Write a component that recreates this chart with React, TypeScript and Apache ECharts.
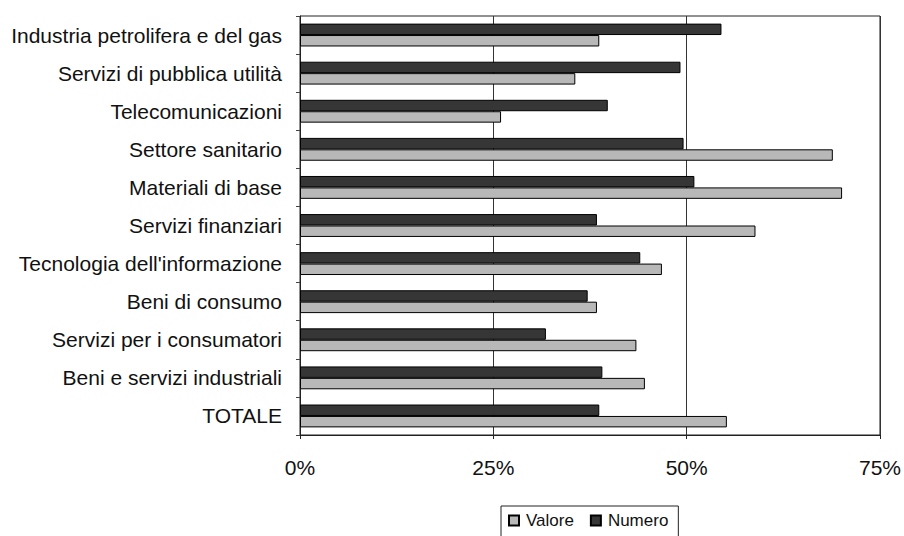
import React, { useEffect, useRef } from "react";
import * as echarts from "echarts";

const categories = [
  "Industria petrolifera e del gas",
  "Servizi di pubblica utilità",
  "Telecomunicazioni",
  "Settore sanitario",
  "Materiali di base",
  "Servizi finanziari",
  "Tecnologia dell'informazione",
  "Beni di consumo",
  "Servizi per i consumatori",
  "Beni e servizi industriali",
  "TOTALE",
];

const valore = [38.7, 35.6, 26.0, 68.9, 70.1, 58.9, 46.8, 38.4, 43.5, 44.6, 55.2];
const numero = [54.5, 49.2, 39.8, 49.6, 51.0, 38.4, 44.0, 37.2, 31.8, 39.1, 38.7];

const xTicks = [0, 25, 50, 75];

export default function App() {
  const ref = useRef<HTMLDivElement>(null);

  useEffect(() => {
    document.body.style.margin = "0";
    if (!ref.current) return;
    const chart = echarts.init(ref.current, null, { renderer: "svg" });
    const font = "Liberation Sans, Arial, sans-serif";
    chart.setOption({
      animation: false,
      backgroundColor: "#ffffff",
      textStyle: { fontFamily: font },
      grid: {
        left: 300,
        right: 22,
        top: 16,
        bottom: 101,
        show: true,
        borderColor: "#222",
        borderWidth: 1,
        backgroundColor: "transparent",
      },
      legend: {
        left: 501,
        top: 506,
        data: ["Valore", "Numero"],
        icon: "rect",
        itemWidth: 10,
        itemHeight: 10,
        itemGap: 16,
        padding: [6, 10, 14, 7],
        borderColor: "#222",
        borderWidth: 1,
        textStyle: { fontSize: 17, color: "#111", fontFamily: font, padding: [0, 0, 0, 2] },
      },
      xAxis: {
        type: "value",
        min: xTicks[0],
        max: xTicks[xTicks.length - 1],
        interval: 25,
        axisLine: { show: true, lineStyle: { color: "#222" } },
        axisTick: { show: true, inside: false, length: 4, lineStyle: { color: "#222" } },
        splitLine: { show: true, lineStyle: { color: "#333", width: 1 } },
        axisLabel: {
          formatter: "{value}%",
          fontSize: 21,
          color: "#111",
          margin: 22,
          fontFamily: font,
        },
      },
      yAxis: {
        type: "category",
        data: categories,
        inverse: true,
        axisLine: { show: true, lineStyle: { color: "#222" } },
        axisTick: { show: true, length: 4, lineStyle: { color: "#444" } },
        axisLabel: { fontSize: 21, color: "#111", margin: 18, fontFamily: font },
      },
      series: [
        {
          name: "Numero",
          type: "bar",
          data: numero,
          barGap: "0%",
          barCategoryGap: "40%",
          itemStyle: { color: "#363636", borderColor: "#000", borderWidth: 1 },
        },
        {
          name: "Valore",
          type: "bar",
          data: valore,
          barGap: "0%",
          barCategoryGap: "40%",
          itemStyle: { color: "#b8b8b8", borderColor: "#000", borderWidth: 1 },
        },
      ],
    });
    return () => chart.dispose();
  }, []);

  return <div ref={ref} style={{ width: 904, height: 536 }} />;
}
